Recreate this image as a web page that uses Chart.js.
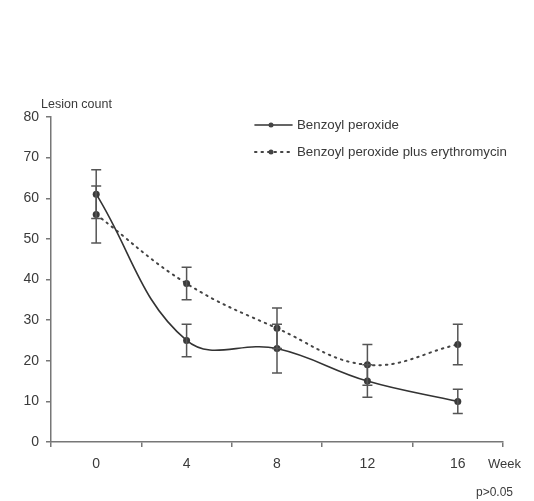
<!DOCTYPE html>
<html>
<head>
<meta charset="utf-8">
<script src="https://cdn.jsdelivr.net/npm/chart.js@4"></script>
<style>
  html, body { margin: 0; padding: 0; background: #fff; }
  #wrap { width: 534px; height: 501px; }
</style>
</head>
<body>
<div id="wrap"><canvas id="chart"></canvas></div>
<script>
// Datos
const weeks = ['0', '4', '8', '12', '16'];
const bpMean = [61, 25, 23, 15, 10];
const bpErr = [6, 4, 6, 4, 3];
const bpeMean = [56, 39, 28, 19, 24];
const bpeErr = [7, 4, 5, 5, 5];
const yTicks = [0, 10, 20, 30, 40, 50, 60, 70, 80];

const FONT = '"Liberation Sans", Arial, sans-serif';
const INK = '#3a3a3a';

// Barras de error dibujadas con las escalas de Chart.js
const errorBars = {
  id: 'errorBars',
  afterDatasetsDraw(chart) {
    const ctx = chart.ctx;
    const y = chart.scales.y;
    ctx.save();
    ctx.strokeStyle = '#555';
    ctx.lineWidth = 1.5;
    chart.data.datasets.forEach((ds, di) => {
      const meta = chart.getDatasetMeta(di);
      meta.data.forEach((pt, i) => {
        const top = y.getPixelForValue(ds.data[i] + ds.err[i]);
        const bot = y.getPixelForValue(ds.data[i] - ds.err[i]);
        ctx.beginPath();
        ctx.moveTo(pt.x, top); ctx.lineTo(pt.x, bot);
        ctx.moveTo(pt.x - 5, top); ctx.lineTo(pt.x + 5, top);
        ctx.moveTo(pt.x - 5, bot); ctx.lineTo(pt.x + 5, bot);
        ctx.stroke();
      });
    });
    ctx.restore();
  }
};

// Textos sueltos y leyenda
const extras = {
  id: 'extras',
  afterDraw(chart) {
    const ctx = chart.ctx;
    ctx.save();
    ctx.fillStyle = INK;
    ctx.font = '12.5px ' + FONT;
    ctx.textBaseline = 'middle';
    ctx.textAlign = 'left';
    ctx.fillText('Lesion count', 41, 105);
    ctx.font = '13px ' + FONT;
    ctx.fillText('Week', 488, 464);
    ctx.font = '12px ' + FONT;
    ctx.fillText('p>0.05', 476, 493);

    // leyenda
    const rows = [{ y: 125, ds: chart.data.datasets[0] }, { y: 152, ds: chart.data.datasets[1] }];
    ctx.font = '13.3px ' + FONT;
    rows.forEach(r => {
      ctx.strokeStyle = r.ds.borderColor;
      ctx.lineWidth = r.ds.borderWidth;
      ctx.lineCap = 'round';
      ctx.setLineDash(r.ds.borderDash || []);
      ctx.beginPath();
      ctx.moveTo(255, r.y); ctx.lineTo(292, r.y);
      ctx.stroke();
      ctx.setLineDash([]);
      ctx.fillStyle = '#444';
      ctx.beginPath();
      ctx.arc(271, r.y, 2.5, 0, Math.PI * 2);
      ctx.fill();
      ctx.fillStyle = INK;
      ctx.fillText(r.ds.label, 297, r.y);
    });
    ctx.restore();
  }
};

new Chart(document.getElementById('chart'), {
  type: 'line',
  data: {
    labels: weeks,
    datasets: [
      {
        label: 'Benzoyl peroxide',
        data: bpMean,
        err: bpErr,
        borderColor: '#333',
        borderWidth: 1.6,
        tension: 0.4,
        pointRadius: 3.5,
        pointBackgroundColor: '#3a3a3a',
        pointBorderWidth: 0
      },
      {
        label: 'Benzoyl peroxide plus erythromycin',
        data: bpeMean,
        err: bpeErr,
        borderColor: '#444',
        borderWidth: 2,
        borderDash: [1.5, 5],
        borderCapStyle: 'round',
        tension: 0.4,
        pointRadius: 3.5,
        pointBackgroundColor: '#3a3a3a',
        pointBorderWidth: 0
      }
    ]
  },
  options: {
    responsive: true,
    maintainAspectRatio: false,
    animation: false,
    layout: { padding: { left: 0, right: 31, top: 117, bottom: 0 } },
    plugins: { legend: { display: false }, tooltip: { enabled: false } },
    scales: {
      x: {
        type: 'category',
        offset: true,
        afterFit: s => { s.height = 59; },
        border: { display: true, color: '#777', width: 1.5 },
        grid: { offset: true, drawOnChartArea: false, drawTicks: true, tickLength: 5, color: '#777', lineWidth: 1.5 },
        ticks: { color: INK, font: { family: FONT, size: 14 }, padding: 9 }
      },
      y: {
        min: 0,
        max: 80,
        afterFit: s => { s.width = 51; },
        afterBuildTicks: s => { s.ticks = yTicks.map(v => ({ value: v })); },
        border: { display: true, color: '#777', width: 1.5 },
        grid: { drawOnChartArea: false, drawTicks: true, tickLength: 5, color: '#777', lineWidth: 1.5 },
        ticks: { color: INK, font: { family: FONT, size: 14 }, padding: 7 }
      }
    }
  },
  plugins: [errorBars, extras]
});
</script>
</body>
</html>
